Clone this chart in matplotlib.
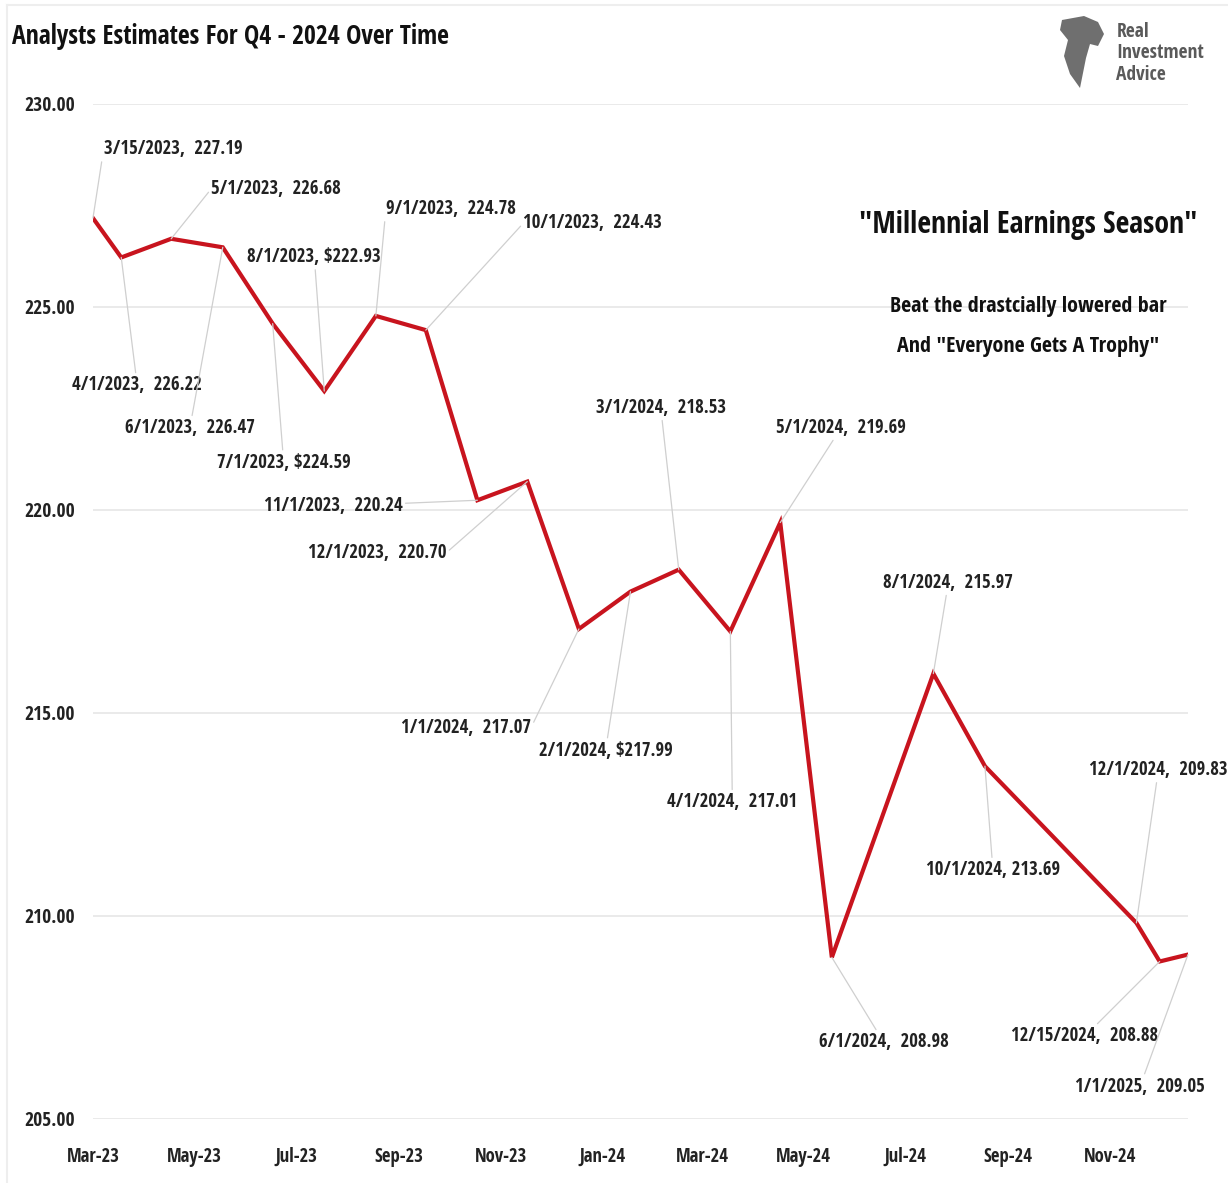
from datetime import datetime

import matplotlib
matplotlib.use("Agg")
import matplotlib.pyplot as plt
import matplotlib.dates as mdates
from matplotlib import font_manager as fm
from matplotlib.lines import Line2D
from matplotlib.patches import Polygon
import pandas as pd

# pick a condensed sans that is installed (reference uses squeezed Calibri)
installed = {f.name for f in fm.fontManager.ttflist}
wanted = ['Open Sans Condensed', 'Fira Sans Condensed', 'PT Sans Narrow', 'Roboto Condensed',
          'Archivo Narrow', 'Encode Sans Condensed', 'Liberation Sans Narrow', 'Carlito']
font = next((f for f in wanted if f in installed), 'DejaVu Sans')
plt.rcParams['font.family'] = [font, 'DejaVu Sans']

# data: plotted date, value, label shown on chart
dates = ["2023-03-15", "2023-04-01", "2023-05-01", "2023-06-01", "2023-07-01",
         "2023-08-01", "2023-09-01", "2023-10-01", "2023-11-01", "2023-12-01",
         "2024-01-01", "2024-02-01", "2024-03-01", "2024-04-01", "2024-05-01",
         "2024-06-01", "2024-08-01", "2024-09-01", "2024-12-01", "2024-12-15",
         "2025-01-01"]
values = [227.19, 226.22, 226.68, 226.47, 224.59, 222.93, 224.78, 224.43, 220.24,
          220.70, 217.07, 217.99, 218.53, 217.01, 219.69, 208.98, 215.97, 213.69,
          209.83, 208.88, 209.05]
labels = ["3/15/2023,  227.19", "4/1/2023,  226.22", "5/1/2023,  226.68",
          "6/1/2023,  226.47", "7/1/2023, $224.59", "8/1/2023, $222.93",
          "9/1/2023,  224.78", "10/1/2023,  224.43", "11/1/2023,  220.24",
          "12/1/2023,  220.70", "1/1/2024,  217.07", "2/1/2024, $217.99",
          "3/1/2024,  218.53", "4/1/2024,  217.01", "5/1/2024,  219.69",
          "6/1/2024,  208.98", "8/1/2024,  215.97", "10/1/2024, 213.69",
          "12/1/2024,  209.83", "12/15/2024,  208.88", "1/1/2025,  209.05"]
yticks = [205, 210, 215, 220, 225, 230]

# label offsets in pixels (layout) and where the leader line leaves the label
offsets = [(80, 69), (16, -128), (105, 50), (-33, -181), (11, -139), (-10, 134),
           (75, 107), (167, 107), (-144, -6), (-150, -71), (-113, -99), (-25, -159),
           (-18, 162), (2, -171), (61, 95), (52, -85), (15, 91), (8, -104),
           (22, 153), (-75, -75), (-48, -132)]
relpos = {0: (0, 0.5), 2: (0, 0.5), 6: (0, 0.5), 7: (0, 0.5), 9: (1, 0.5), 10: (1, 0.5)}

x = pd.to_datetime(dates)

fig = plt.figure(figsize=(12.28, 11.83), dpi=100)
ax = fig.add_axes([0.0757, 0.0541, 0.8917, 0.858])

ax.plot(x, values, color='#c8141e', lw=3.0, solid_joinstyle='miter')

ax.set_xlim(datetime(2023, 3, 15), datetime(2025, 1, 1))
ax.set_ylim(205, 230)
ax.set_yticks(yticks)
ax.yaxis.set_major_formatter(matplotlib.ticker.FormatStrFormatter('%.2f'))
tick_dates = pd.date_range("2023-03-01", periods=11, freq="2MS") + pd.Timedelta(days=14)
ax.set_xticks(tick_dates)
ax.xaxis.set_major_formatter(mdates.DateFormatter('%b-%y'))
ax.grid(axis='y', color='#e6e6e6', lw=1.2)
ax.set_axisbelow(True)
for s in ax.spines.values():
    s.set_visible(False)
ax.tick_params(length=0)
ax.tick_params(axis='y', pad=13, labelsize=14)
ax.tick_params(axis='x', pad=20, labelsize=13.5)
for t in ax.get_xticklabels() + ax.get_yticklabels():
    t.set_fontweight('bold')
    t.set_color('#222222')

for i, (xi, yi, lab) in enumerate(zip(x, values, labels)):
    dx, dy = offsets[i]
    ax.annotate(lab, (xi, yi), xytext=(dx, dy), textcoords='offset pixels',
                ha='center', va='center', fontsize=13.5, fontweight='bold', color='#222222',
                arrowprops=dict(arrowstyle='-', color='#cfcfcf', lw=0.9, shrinkA=0, shrinkB=0,
                                relpos=relpos.get(i, (0.5, 0.5))))

fig.text(0.01, 0.969, "Analysts Estimates For Q4 - 2024 Over Time", fontsize=18.5,
         fontweight='bold', color='#111111', va='center', ha='left')
fig.text(0.8375, 0.81, '"Millennial Earnings Season"', fontsize=21.5, color='#111111',
         ha='center', va='center')
fig.text(0.8375, 0.741, 'Beat the drastcially lowered bar', fontsize=15.8, fontweight='bold',
         color='#111111', ha='center', va='center')
fig.text(0.8375, 0.707, 'And "Everyone Gets A Trophy"', fontsize=15.8, fontweight='bold',
         color='#111111', ha='center', va='center')

# logo
fig.text(0.909, 0.955, "Real\nInvestment\nAdvice", fontsize=14, fontweight='bold',
         color='#5a5a5a', ha='left', va='center', linespacing=1.1)
eagle = [(1062, 20), (1084, 16), (1098, 22), (1104, 34), (1098, 46), (1090, 44),
         (1086, 58), (1080, 88), (1070, 74), (1064, 56), (1068, 40), (1060, 30)]
fig.add_artist(Polygon([(px / 1228, 1 - py / 1183) for px, py in eagle], closed=True,
                       facecolor='#6f6f6f', edgecolor='none', transform=fig.transFigure))

# faint frame
fig.add_artist(Line2D([0.006, 1], [0.996, 0.996], color='#eeeeee', lw=1.5, transform=fig.transFigure))
fig.add_artist(Line2D([0.006, 0.006], [0, 0.996], color='#eeeeee', lw=1.5, transform=fig.transFigure))

fig.savefig("out.png", dpi=100, facecolor='white')
